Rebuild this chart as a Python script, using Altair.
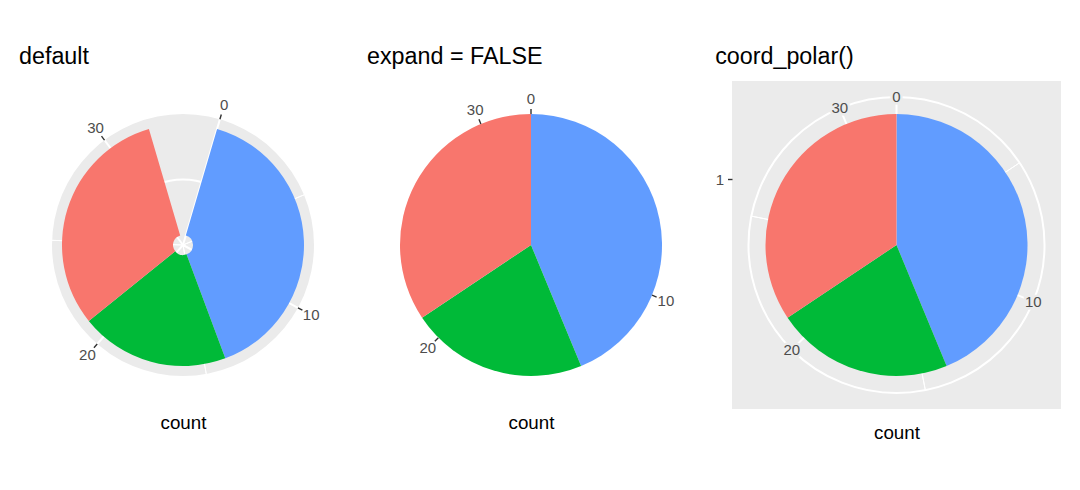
import altair as alt
import pandas as pd

# ---- data -------------------------------------------------------------
cyl = ["4", "6", "8"]
counts = [11, 7, 14]
fill_colors = ["#F8766D", "#00BA38", "#619CFF"]
major_breaks = [0, 10, 20, 30]
major_labels = ["0", "10", "20", "30"]
minor_breaks = [5, 15, 25]
r_breaks = [1]

FONT = "Liberation Sans"
TWO_PI = 6.283185307179586
GRAY_BG = "#EBEBEB"

# position_stack: last level sits at the bottom of the stack (starts at 0)
rows = []
cum = 0
for i in [2, 1, 0]:
    rows.append({"cyl": cyl[i], "start": cum, "end": cum + counts[i],
                 "rin": 1 - 0.45, "rout": 1 + 0.45})
    cum += counts[i]
bars = pd.DataFrame(rows)
total = cum

major_df = pd.DataFrame({"b": major_breaks, "lab": major_labels})
minor_df = pd.DataFrame({"b": minor_breaks})
dummy = pd.DataFrame({"d": [0.5]})


def th(field, dom):
    return alt.Theta(f"{field}:Q", scale=alt.Scale(domain=dom, range=[0, TWO_PI]), stack=False)


def rad(field, rdom, rrng):
    return alt.Radius(f"{field}:Q", scale=alt.Scale(type="linear", domain=rdom, range=rrng, zero=False))


def full_ring(tdom, r_val, rdom, rrng, **mark):
    df = pd.DataFrame({"t0": [tdom[0]], "t1": [tdom[1]], "r": [r_val]})
    return alt.Chart(df).mark_arc(**mark).encode(
        theta=th("t0", tdom), theta2="t1:Q", radius=rad("r", rdom, rrng), radius2="r:Q")


def grid_lines(df, tdom, r_val, rdom, rrng, width):
    d = df.assign(r=r_val)
    return alt.Chart(d).mark_arc(stroke="white", strokeWidth=width, fillOpacity=0).encode(
        theta=th("b", tdom), theta2="b:Q", radius=rad("r", rdom, rrng), radius2=alt.value(0))


def bar_layer(tdom, rdom, rrng):
    return alt.Chart(bars).mark_arc().encode(
        theta=th("start", tdom), theta2="end:Q",
        radius=rad("rout", rdom, rrng), radius2="rin:Q",
        color=alt.Color("cyl:N", scale=alt.Scale(domain=cyl, range=fill_colors), legend=None))


def tick_layer(tdom, r_val, rdom, rrng):
    d = major_df.assign(r=r_val)
    return alt.Chart(d).mark_arc(stroke="#333333", strokeWidth=1.4, fillOpacity=0, radiusOffset=5).encode(
        theta=th("b", tdom), theta2="b:Q", radius=rad("r", rdom, rrng), radius2="r:Q")


def label_layer(tdom, r_val, rdom, rrng, offset, **extra):
    d = major_df.assign(r=r_val)
    return alt.Chart(d).mark_text(font=FONT, fontSize=15, color="#4D4D4D", align="center",
                                  baseline="middle", radiusOffset=offset, **extra).encode(
        theta=th("b", tdom), radius=rad("r", rdom, rrng), text="lab:N")


def count_axis(pad, with_y=False, ydom=None):
    enc = {"x": alt.X("d:Q", scale=alt.Scale(domain=[0, 1]),
                      axis=alt.Axis(title="count", labels=False, ticks=False, domain=False, grid=False,
                                    titleFont=FONT, titleFontSize=18.8, titleFontWeight="normal",
                                    titleColor="black", titlePadding=pad))}
    if with_y:
        enc["y"] = alt.Y("d:Q", scale=alt.Scale(domain=ydom, nice=False, zero=False),
                         axis=alt.Axis(title=None, values=r_breaks, labelExpr="'1'", domain=False, grid=False,
                                       tickColor="#333333", tickWidth=1.4, tickSize=4.5, labelPadding=4,
                                       labelFont=FONT, labelFontSize=15, labelColor="#4D4D4D"))
    return alt.Chart(dummy).mark_point(opacity=0, size=1).encode(**enc)


def title(txt):
    return alt.TitleParams(txt, anchor="start", font=FONT, fontSize=23.3, fontWeight="normal",
                           color="black", baseline="alphabetic", offset=-6)


W, H = 328, 328

# ---- panel 1: default (coord_radial with expansion) --------------------
t1 = [-0.05 * total, total * 1.05]
r1dom, r1rng = [0.55, 1.45], [10, 121]
r1_edge = 1.531
p1 = alt.layer(
    full_ring(t1, r1_edge, r1dom, r1rng, fill=GRAY_BG).encode(radius2=alt.value(0)),
    grid_lines(minor_df, t1, r1_edge, r1dom, r1rng, 1),
    grid_lines(major_df, t1, r1_edge, r1dom, r1rng, 2),
    full_ring(t1, r_breaks[0], r1dom, r1rng, stroke="white", strokeWidth=2, fillOpacity=0),
    bar_layer(t1, r1dom, r1rng),
    tick_layer(t1, r1_edge, r1dom, r1rng),
    label_layer(t1, r1_edge, r1dom, r1rng, 15),
    count_axis(4),
).properties(width=W, height=H, title=title("default"))

# ---- panel 2: expand = FALSE ------------------------------------------
t2 = [0, total]
r2dom, r2rng = [0.55, 1.45], [0, 131]
p2 = alt.layer(
    bar_layer(t2, r2dom, r2rng),
    tick_layer(t2, 1.45, r2dom, r2rng),
    label_layer(t2, 1.45, r2dom, r2rng, 15),
    count_axis(4),
).properties(width=W, height=H, title=title("expand = FALSE"))

# ---- panel 3: coord_polar ---------------------------------------------
t3 = [0, total]
r3dom, r3rng = [0.55, 1.45], [0, 131]
r3_edge = 1.567
ydom = [0.55 - 164 / 145.56, 0.55 + 164 / 145.56]
p3 = alt.layer(
    grid_lines(minor_df, t3, r3_edge, r3dom, r3rng, 1),
    grid_lines(major_df, t3, r3_edge, r3dom, r3rng, 2),
    full_ring(t3, r3_edge, r3dom, r3rng, stroke="white", strokeWidth=2, fillOpacity=0),
    full_ring(t3, r_breaks[0], r3dom, r3rng, stroke="white", strokeWidth=2, fillOpacity=0),
    bar_layer(t3, r3dom, r3rng),
    label_layer(t3, r3_edge, r3dom, r3rng, 0, stroke=GRAY_BG, strokeWidth=5),
    label_layer(t3, r3_edge, r3dom, r3rng, 0),
    count_axis(14, with_y=True, ydom=ydom),
).properties(width=329, height=H, title=title("coord_polar()"),
             view=alt.ViewBackground(fill=GRAY_BG, stroke="transparent"))

chart = alt.hconcat(p1, p2, p3, spacing=20).properties(
    padding={"left": 11, "top": 36, "right": 5, "bottom": 5},
    background="white",
).configure_view(strokeWidth=0)

chart.save("out.html", embed_options={"renderer": "svg", "actions": False})
